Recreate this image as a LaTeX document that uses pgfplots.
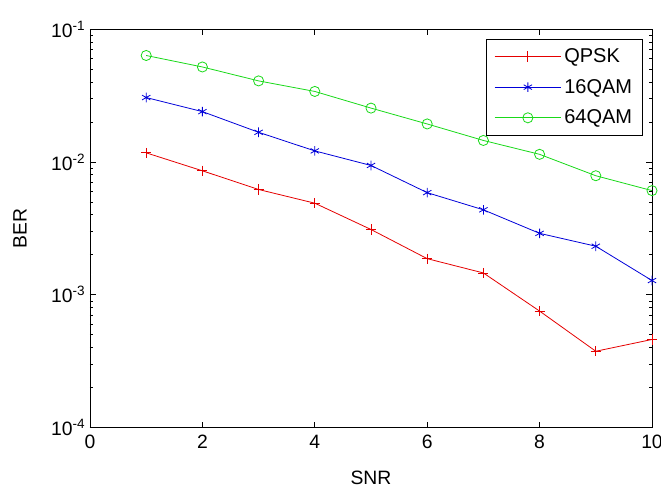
\documentclass[border=0pt]{standalone}
\usepackage{fontspec}
\setmainfont{Liberation Sans}
\usepackage{pgfplots}
\pgfplotsset{compat=1.18}

\definecolor{mred}{rgb}{0.9,0,0}
\definecolor{mblue}{rgb}{0,0,0.85}
\definecolor{mgreen}{rgb}{0.1,0.85,0.1}

\begin{document}
\begin{tikzpicture}
\begin{axis}[
  scale only axis,
  width=421.5pt, height=299pt,
  xmin=0, xmax=10, ymin=1e-4, ymax=1e-1,
  ymode=log,
  xtick={0,2,4,6,8,10},
  ytick={1e-4,1e-3,1e-2,1e-1},
  yticklabels={10\textsuperscript{-4},10\textsuperscript{-3},10\textsuperscript{-2},10\textsuperscript{-1}},
  xlabel={SNR}, ylabel={BER},
  tick align=inside,
  major tick length=4.5pt, minor tick length=2.5pt,
  tick style={black, line width=0.5pt},
  axis line style={line width=0.7pt},
  font=\fontsize{14.5}{17}\selectfont,
  /pgf/number format/assume math mode=true,
  ylabel style={at={(axis description cs:0,0.5)}, anchor=south, yshift=44pt},
  xlabel style={at={(axis description cs:0.5,0)}, anchor=north, yshift=-29pt},
  xticklabel style={yshift=-2pt},
  legend style={at={(rel axis cs:0.984,0.975)}, anchor=north east,
    font=\fontsize{15}{17}\selectfont,
    cells={anchor=west}, row sep=7pt, inner xsep=6pt, inner ysep=5pt},
  legend image code/.code={
    \draw[mark repeat=2,mark phase=2] plot coordinates {(0pt,0pt) (25pt,0pt) (50pt,0pt)};},
]
\addplot[mred, line width=0.6pt, mark=+, mark size=3.8pt] coordinates {
(1,0.0117)(2,0.00857)(3,0.0062)(4,0.00489)(5,0.0031)
(6,0.00187)(7,0.00146)(8,0.000754)(9,0.000376)(10,0.000461)};
\addlegendentry{QPSK}
\addplot[mblue, line width=0.6pt, mark=asterisk, mark size=3.6pt] coordinates {
(1,0.0305)(2,0.0239)(3,0.0167)(4,0.0121)(5,0.0094)
(6,0.00587)(7,0.00436)(8,0.0029)(9,0.00232)(10,0.00128)};
\addlegendentry{16QAM}
\addplot[mgreen, line width=0.6pt, mark=o, mark size=3.8pt] coordinates {
(1,0.0632)(2,0.0518)(3,0.0407)(4,0.0339)(5,0.0254)
(6,0.0193)(7,0.0145)(8,0.0114)(9,0.00787)(10,0.00608)};
\addlegendentry{64QAM}
\end{axis}
\pgfresetboundingbox
\useasboundingbox ([shift={(-67.5pt,-47.25pt)}]current axis.south west) rectangle ([shift={(6.75pt,21.75pt)}]current axis.north east);
\end{tikzpicture}
\end{document}
